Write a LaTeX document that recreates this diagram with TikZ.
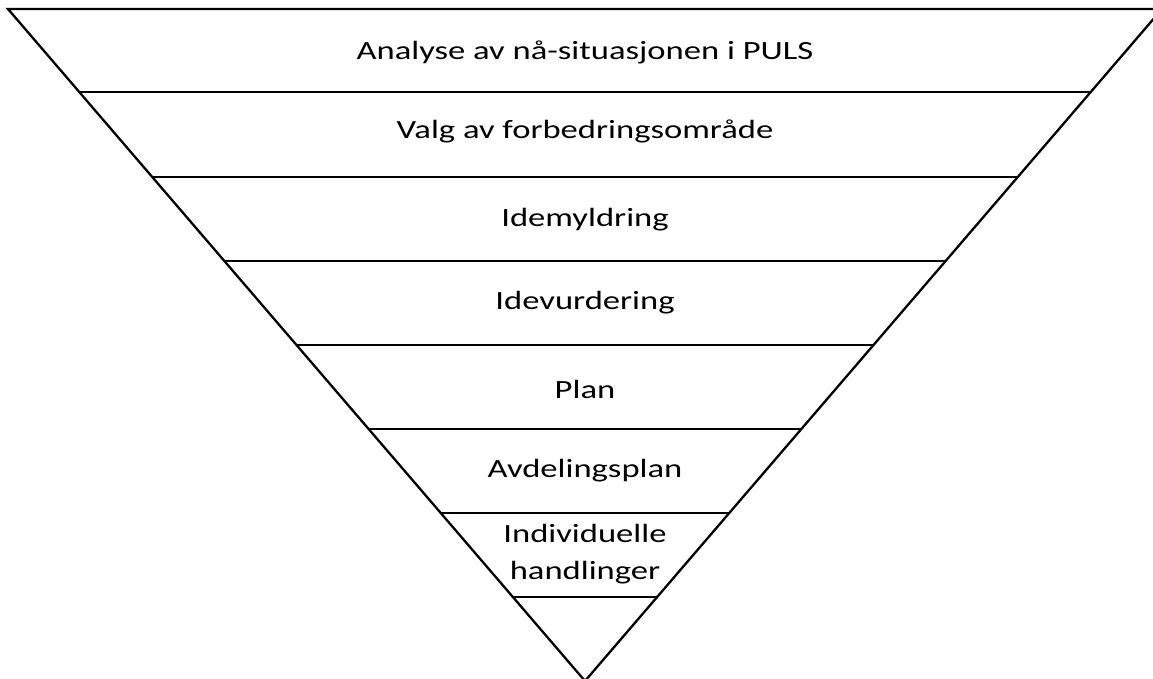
\documentclass[tikz,border=0pt]{standalone}
\usepackage{fontspec}
\setmainfont{Carlito}
\newfontfamily\tierfont[FakeStretch=1.315]{Carlito}
\usetikzlibrary{calc}
\begin{document}
\begin{tikzpicture}[x=1pt,y=-1pt,
  edge/.style={line width=2.3pt, line join=miter},
  tier/.style={line width=2.5pt},
  label/.style={anchor=base, inner sep=0pt, font=\tierfont\fontsize{26.3}{37}\selectfont, align=center}]
\useasboundingbox (0,0) rectangle (1153,678);
\clip (0,0) rectangle (1153,678);
% corners of the inverted triangle
\coordinate (TL) at (8,9);
\coordinate (TR) at (1162,9);
\coordinate (A) at (585,681);
\draw[edge] (TL) -- (TR) -- (A) -- cycle;
% tier dividers, each running between the two slanted sides
\foreach \y [count=\i] in {92,177,261,345,429,513,597} {
  \pgfmathsetmacro{\t}{(\y-9)/672}
  \coordinate (L\i) at ($(TL)!\t!(A)$);
  \coordinate (R\i) at ($(TR)!\t!(A)$);
  \draw[tier] (L\i) -- (R\i);
}
% tier labels
\node[label] (t1) at (585,59.5) {Analyse av nå-situasjonen i PULS};
\node[label] (t2) at (585,138.5) {Valg av forbedringsområde};
\node[label] (t3) at (585,226.5) {Idemyldring};
\node[label] (t4) at (585,309.5) {Idevurdering};
\node[label] (t5) at (585,398.5) {Plan};
\node[label] (t6) at (585,477.5) {Avdelingsplan};
\node[label] (t7a) at (585,542.5) {Individuelle};
\node[label] (t7b) at (585,579.5) {handlinger};
\end{tikzpicture}
\end{document}
